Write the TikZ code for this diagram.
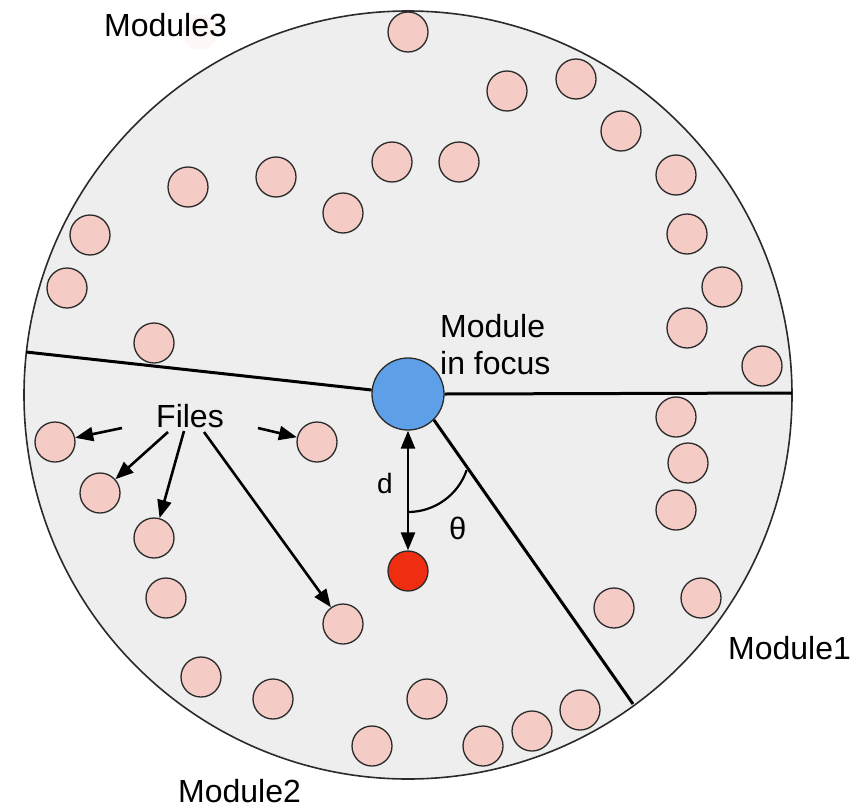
\documentclass[tikz,border=0pt]{standalone}
\usepackage{fontspec}
\setmainfont{Liberation Sans}
\usetikzlibrary{arrows.meta}
\definecolor{bggray}{HTML}{EEEEEE}
\definecolor{filepink}{HTML}{F4CBC5}
\definecolor{focusblue}{HTML}{5EA0E8}
\definecolor{targetred}{HTML}{EF2D10}
\definecolor{edgegray}{HTML}{2A2A2A}
\tikzset{
  filenode/.style={circle, draw=edgegray, line width=1.3pt, fill=filepink, minimum size=40pt, inner sep=0pt},
  partline/.style={line width=3pt, black},
  bigtip/.tip={Triangle[length=18pt,width=14pt]},
  filearrow/.style={line width=2.6pt, -bigtip},
  lbl/.style={inner sep=0pt, font=\fontsize{32}{37}\selectfont},
}
\begin{document}
\begin{tikzpicture}[x=1pt, y=-1pt]
\useasboundingbox (0,0) rectangle (866,808);
% big circle
\draw[fill=bggray, draw=edgegray, line width=1.6pt] (408,395) circle[radius=384pt];
% faint artefact behind Module3
\fill[filepink, opacity=0.15] (200,32) circle[radius=18pt];
% rim points
\coordinate (rimL) at (26,352);
\coordinate (rimR) at (792,393);
\coordinate (rimD) at (633,704);
% focus module
\node[circle, draw=edgegray, line width=1.3pt, fill=focusblue, minimum size=72pt, inner sep=0pt] (focus) at (408,394) {};
\node[circle, draw=edgegray, line width=1.3pt, fill=targetred, minimum size=40pt, inner sep=0pt] (target) at (408,571) {};
% partition lines
\draw[partline] (focus) -- (rimL);
\draw[partline] (focus.east) -- (rimR);
\draw[partline] (focus.south east) -- (rimD);
% files
\foreach \n/\x/\y in {1/408/32, 2/507/91, 3/576/79, 4/621/131, 5/676/175, 6/687/234, 7/722/287, 8/687/328, 9/762/366,
  10/676/417, 11/688/463, 12/676/510, 13/701/598, 14/614/608, 15/580/710, 16/532/731, 17/483/746, 18/427/699,
  19/372/746, 20/273/699, 21/201/677, 22/166/598, 23/343/624, 24/154/538, 25/100/493, 26/55/442, 27/317/442,
  28/154/343, 29/67/288, 30/90/235, 31/188/187, 32/276/177, 33/343/213, 34/392/162, 35/459/162}
  \node[filenode] (f\n) at (\x,\y) {};
% distance arrow and angle
\draw[line width=2.6pt, bigtip-bigtip] (focus) -- (target);
\draw[line width=2.2pt] (408,512) arc[start angle=90, end angle=19, radius=62];
\node[lbl, anchor=base west, font=\fontsize{28}{32}\selectfont] (dlbl) at (377,493) {d};
\node[lbl, anchor=base west, font=\fontsize{31}{36}\selectfont] (thlbl) at (449,539) {θ};
% labels
\node[lbl, anchor=north west, align=left] (focuslbl) at (440,314) {Module\\in focus};
\node[lbl, anchor=base west] (m3) at (104,37) {Module3};
\node[lbl, anchor=base west] (m1) at (728,659) {Module1};
\node[lbl, anchor=base west] (m2) at (178,802) {Module2};
\node[lbl, anchor=base west] (files) at (156,427) {Files};
% arrows from Files
\coordinate (a1) at (122,428);
\coordinate (a2) at (168,432);
\coordinate (a3) at (184,431);
\coordinate (a4) at (204,432);
\coordinate (a5) at (258,428);
\draw[filearrow] (a1) -- (f26);
\draw[filearrow] (a2) -- (f25);
\draw[filearrow] (a3) -- (f24);
\draw[filearrow] (a4) -- (f23);
\draw[filearrow] (a5) -- (f27);
\end{tikzpicture}
\end{document}
